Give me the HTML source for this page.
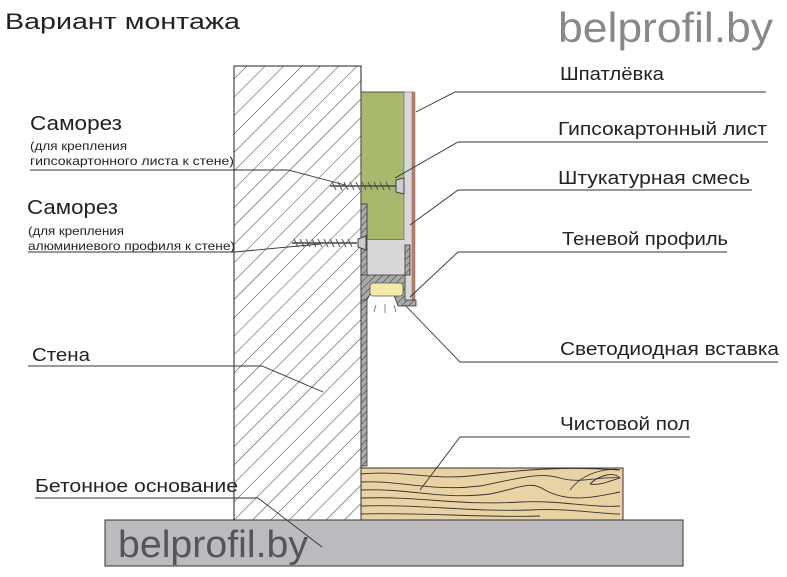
<!DOCTYPE html>
<html><head><meta charset="utf-8"><style>
html,body{margin:0;padding:0;background:#fff;}
svg{display:block;font-family:"Liberation Sans","DejaVu Sans",sans-serif;}
</style></head><body>
<svg width="787" height="577" viewBox="0 0 787 577" xmlns="http://www.w3.org/2000/svg">
<defs>
<pattern id="hatch" patternUnits="userSpaceOnUse" width="13" height="13" patternTransform="rotate(45)">
<line x1="0" y1="0" x2="0" y2="13" stroke="#222" stroke-width="0.9"/>
</pattern>
<pattern id="hatch2" patternUnits="userSpaceOnUse" width="5" height="5" patternTransform="rotate(45)">
<rect width="5" height="5" fill="#aaa"/>
<line x1="0" y1="0" x2="0" y2="5" stroke="#333" stroke-width="1"/>
</pattern>
</defs>
<text x="5" y="29" font-size="22" fill="#222" textLength="235" lengthAdjust="spacingAndGlyphs">Вариант монтажа</text>
<text x="558" y="42" font-size="42" fill="#888" textLength="215" lengthAdjust="spacingAndGlyphs">belprofil.by</text>

<rect x="234" y="66" width="127" height="454" fill="#fff"/>
<rect x="234" y="66" width="127" height="454" fill="url(#hatch)" stroke="#222" stroke-width="1"/>

<rect x="105" y="520" width="578" height="46" fill="#bbbbbf" stroke="#333" stroke-width="1"/>
<text x="118" y="557" font-size="38" fill="#555" textLength="190" lengthAdjust="spacingAndGlyphs">belprofil.by</text>

<rect x="361" y="468" width="262" height="52" fill="#e9d2a4" stroke="#333" stroke-width="1"/>
<g fill="none" stroke="#333" stroke-width="0.9">
<path d="M361,474 C400,470 430,480 470,476 C520,470 560,466 620,470"/>
<path d="M361,482 C400,480 430,492 480,486 C520,478 540,472 560,478 C580,484 600,476 620,478"/>
<path d="M361,490 C410,488 440,500 490,494 C520,488 530,480 545,490 C570,504 600,496 620,492"/>
<path d="M361,498 C420,496 460,506 520,502 C560,500 590,508 620,506"/>
<path d="M361,506 C420,504 470,512 530,510 C570,508 600,514 620,514"/>
<path d="M361,514 C420,512 480,518 540,516"/>
<path d="M590,484 C600,474 615,472 620,478 C612,480 600,486 590,484"/>
<path d="M570,490 C585,470 612,468 620,470"/>
</g>

<rect x="361" y="92" width="44" height="148" fill="#a8b86c" stroke="#333" stroke-width="0.8"/>
<rect x="404" y="92" width="9" height="210" fill="#d8d8d8" stroke="#555" stroke-width="0.5"/>
<rect x="361" y="240" width="44" height="36" fill="#d8d8d8"/>
<rect x="412" y="92" width="3" height="210" fill="#c0806c" stroke="#555" stroke-width="0.4"/>

<rect x="361" y="204" width="6" height="262" fill="url(#hatch2)" stroke="#333" stroke-width="0.8"/>
<path d="M361,275 L410,275 L410,245 L405,245 L405,300 L416,300 L416,306 L398,306 L392,290 L372,290 L367,300 L361,300 Z" fill="url(#hatch2)" stroke="#333" stroke-width="0.8"/>
<rect x="370" y="283" width="33" height="13" rx="3" fill="#f3e9a8" stroke="#555" stroke-width="0.8"/>
<g stroke="#666" stroke-width="0.8"><line x1="376" y1="305" x2="374" y2="312"/><line x1="385" y1="304" x2="385" y2="313"/><line x1="394" y1="305" x2="396" y2="312"/></g>

<g stroke="#444" stroke-width="1.5">
<line x1="330" y1="186" x2="400" y2="186"/>
<line x1="292" y1="243" x2="357" y2="243"/>
</g>
<g stroke="#555" stroke-width="1">
<path d="M332,182 l4,8 M338,182 l4,8 M344,182 l4,8 M350,182 l4,8 M356,182 l4,8 M362,182 l4,8 M368,182 l4,8 M374,182 l4,8 M380,182 l4,8 M386,182 l4,8"/>
<path d="M294,239 l4,8 M300,239 l4,8 M306,239 l4,8 M312,239 l4,8 M318,239 l4,8 M324,239 l4,8 M330,239 l4,8 M336,239 l4,8 M342,239 l4,8 M348,239 l4,8"/>
</g>
<path d="M396,180 L404,178 L404,194 L396,192 Z" fill="#ccc" stroke="#444"/>
<path d="M358,239 L366,236 L366,250 L358,247 Z" fill="#ccc" stroke="#444"/>

<g fill="none" stroke="#333" stroke-width="0.9">
<polyline points="416,112 455,92 766,92"/>
<polyline points="395,178 458,142 768,142"/>
<polyline points="410,225 458,190 752,190"/>
<polyline points="410,297 458,252 727,252"/>
<polyline points="405,305 460,362 778,362"/>
<polyline points="420,490 460,437 690,437"/>
<polyline points="30,170 288,170 345,185"/>
<polyline points="28,252 235,252 320,244"/>
<polyline points="28,366 262,366 323,392"/>
<polyline points="35,498 258,498 322,547"/>
</g>

<g fill="#222" lengthAdjust="spacingAndGlyphs">
<text x="560" y="80" font-size="18" textLength="104" lengthAdjust="spacingAndGlyphs">Шпатлёвка</text>
<text x="558" y="135" font-size="18" textLength="209" lengthAdjust="spacingAndGlyphs">Гипсокартонный лист</text>
<text x="558" y="184" font-size="18" textLength="192" lengthAdjust="spacingAndGlyphs">Штукатурная смесь</text>
<text x="562" y="245" font-size="18" textLength="166" lengthAdjust="spacingAndGlyphs">Теневой профиль</text>
<text x="560" y="355" font-size="18" textLength="219" lengthAdjust="spacingAndGlyphs">Светодиодная вставка</text>
<text x="560" y="430" font-size="18" textLength="130" lengthAdjust="spacingAndGlyphs">Чистовой пол</text>
<text x="30" y="130" font-size="20" textLength="92" lengthAdjust="spacingAndGlyphs">Саморез</text>
<text x="30" y="150" font-size="12" textLength="97" lengthAdjust="spacingAndGlyphs">(для крепления</text>
<text x="30" y="165" font-size="12" textLength="204" lengthAdjust="spacingAndGlyphs">гипсокартонного листа к стене)</text>
<text x="27" y="214" font-size="20" textLength="91" lengthAdjust="spacingAndGlyphs">Саморез</text>
<text x="28" y="235" font-size="12" textLength="96" lengthAdjust="spacingAndGlyphs">(для крепления</text>
<text x="28" y="250" font-size="12" textLength="207" lengthAdjust="spacingAndGlyphs">алюминиевого профиля к стене)</text>
<text x="32" y="361" font-size="18" textLength="58" lengthAdjust="spacingAndGlyphs">Стена</text>
<text x="35" y="492" font-size="18" textLength="203" lengthAdjust="spacingAndGlyphs">Бетонное основание</text>
</g>
</svg>
</body></html>
